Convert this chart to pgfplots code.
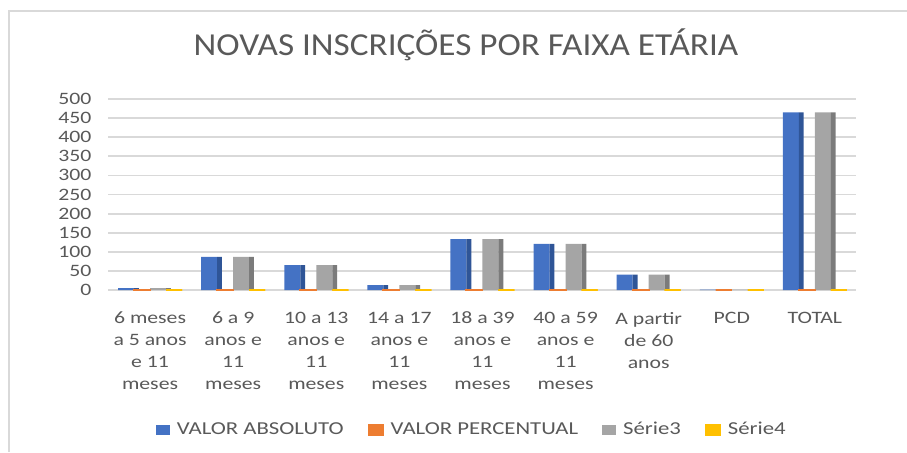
\documentclass[border=0pt]{standalone}
\usepackage{pgfplots}
\pgfplotsset{compat=1.18}
\usepackage{fontspec}
\setmainfont{Carlito}[FakeStretch=1.25]
\newfontfamily\titlefont{Carlito}[FakeStretch=1.1]
\definecolor{cblue}{HTML}{4472C4}
\definecolor{cblued}{HTML}{2F5597}
\definecolor{corange}{HTML}{ED7D31}
\definecolor{cgray}{HTML}{A5A5A5}
\definecolor{cgrayd}{HTML}{7B7B7B}
\definecolor{cyellow}{HTML}{FFC000}
\definecolor{txt}{HTML}{595959}
\definecolor{gridc}{HTML}{D9D9D9}
\begin{document}
\begin{tikzpicture}
\path[use as bounding box] (0,0) rectangle (453.5pt,226pt);
\draw[gridc, line width=1.3pt] (4.5pt,0) -- (4.5pt,220.5pt) -- (453.5pt,220.5pt);
\begin{axis}[
  at={(54.25pt,81pt)}, anchor=south west,
  scale only axis, width=374pt, height=95.5pt,
  xmin=-0.5, xmax=8.5, ymin=0, ymax=500,
  ytick={0,50,...,500},
  xtick={0,...,8},
  xticklabels={{6 meses\\a 5 anos\\e 11\\meses},{6 a 9\\anos e\\11\\meses},{10 a 13\\anos e\\11\\meses},{14 a 17\\anos e\\11\\meses},{18 a 39\\anos e\\11\\meses},{40 a 59\\anos e\\11\\meses},{A partir\\de 60\\anos},{PCD},{TOTAL}},
  major tick length=0,
  axis line style={draw=none},
  xmajorgrids=false, ymajorgrids=true,
  major grid style={gridc, line width=0.9pt},
  /pgf/number format/assume math mode=true,
  ticklabel style={text=txt, font=\fontsize{8.7}{11}\selectfont},
  xticklabel style={align=center, anchor=north, yshift=-7.5pt},
  yticklabel style={xshift=-5pt},
  ybar, bar width=8pt,
  title={NOVAS INSCRIÇÕES POR FAIXA ETÁRIA},
  title style={at={(0.478,1.0)}, anchor=center, yshift=21pt, text=txt, font=\titlefont\fontsize{16}{19}\selectfont},
  legend columns=4,
  legend style={at={(0.487,-0.733)}, anchor=center, draw=none, fill=none,
    font=\fontsize{9.1}{11}\selectfont, text=txt,
    /tikz/every even column/.append style={column sep=10pt}},
  legend image code/.code={\fill[#1] (0pt,-2.5pt) rectangle (7pt,2.5pt); \path (8.5pt,0pt);},
]
% visible series (legend)
\addplot[fill=cblue, draw=none, bar shift=-12pt] coordinates {(0,5) (1,87) (2,65) (3,13) (4,133) (5,121) (6,40) (7,1) (8,465)};
\addplot[fill=corange, draw=corange, line width=1pt, bar shift=-4pt] coordinates {(0,0.01) (1,0.19) (2,0.14) (3,0.03) (4,0.29) (5,0.26) (6,0.09) (7,0) (8,1)};
\addplot[fill=cgray, draw=none, bar shift=4pt] coordinates {(0,5) (1,87) (2,65) (3,13) (4,133) (5,121) (6,40) (7,1) (8,465)};
\addplot[fill=cyellow, draw=cyellow, line width=1pt, bar shift=12pt] coordinates {(0,0) (1,0) (2,0) (3,0) (4,0) (5,0) (6,0) (7,0) (8,0)};
% side faces (3D look)
\addplot[fill=cblued, draw=none, bar width=2.4pt, bar shift=-6.8pt, forget plot] coordinates {(0,5) (1,87) (2,65) (3,13) (4,133) (5,121) (6,40) (7,1) (8,465)};
\addplot[fill=cgrayd, draw=none, bar width=2.4pt, bar shift=9.2pt, forget plot] coordinates {(0,5) (1,87) (2,65) (3,13) (4,133) (5,121) (6,40) (7,1) (8,465)};
% redraw thin slabs in front
\addplot[fill=corange, draw=corange, line width=1pt, bar shift=-4pt, forget plot] coordinates {(0,0.01) (1,0.19) (2,0.14) (3,0.03) (4,0.29) (5,0.26) (6,0.09) (7,0) (8,1)};
\addplot[fill=cyellow, draw=cyellow, line width=1pt, bar shift=12pt, forget plot] coordinates {(0,0) (1,0) (2,0) (3,0) (4,0) (5,0) (6,0) (7,0) (8,0)};
\legend{VALOR ABSOLUTO, VALOR PERCENTUAL, Série3, Série4}
\end{axis}
\end{tikzpicture}
\end{document}
